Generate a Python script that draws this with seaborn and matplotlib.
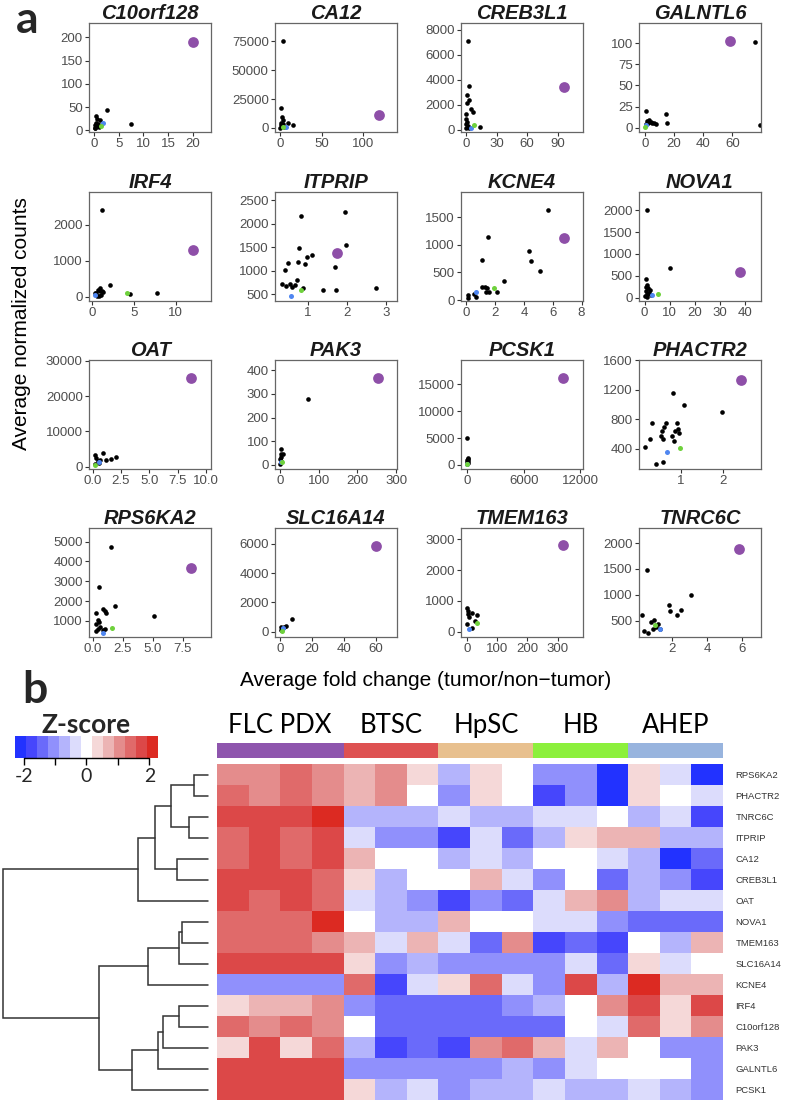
import numpy as np
import pandas as pd
import matplotlib
matplotlib.use("Agg")
import matplotlib.pyplot as plt
import matplotlib.transforms as mtransforms
from matplotlib.colors import ListedColormap
import seaborn as sns

# ---------------- data: panel a (scatter) ----------------
genes = ["C10orf128", "CA12", "CREB3L1", "GALNTL6", "IRF4", "ITPRIP", "KCNE4", "NOVA1",
         "OAT", "PAK3", "PCSK1", "PHACTR2", "RPS6KA2", "SLC16A14", "TMEM163", "TNRC6C"]

c10orf128_x = [0.34, 0.7, 1.2, 2.6, 7.5, 0.2, 0.3, 0.5, 0.8, 0.15, 1.0, 0.4]
c10orf128_y = [30, 25, 22, 43, 13, 11, 6, 9, 13, 4, 7, 16]
ca12_x = [3.3, 1.2, 2.4, 4, 1.2, 16, 9, 2, 5, 0, 0.8, 3.3]
ca12_y = [75000, 17400, 9600, 7300, 4400, 2900, 4400, 1500, 900, 300, 2300, 3200]
creb3l1_x = [1.9, 3, 0.7, 2.6, 1.1, 4.5, 6.7, 0, 0.3, 14, 1.1, 0.2, 1.9, 0.2, 3]
creb3l1_y = [7100, 3500, 2780, 2380, 2100, 1620, 1430, 1240, 890, 216, 620, 430, 270, 135, 110]
galntl6_x = [75.5, 78.8, 0.7, 14.4, 15.5, 0.7, 1.8, 3, 4.1, 5.3, 6.4, 7.5, 2.5]
galntl6_y = [101, 3.6, 20, 16, 5, 4, 8, 9.6, 7, 5.6, 5, 4, 5.6]
irf4_x = [1.15, 2.1, 1.2, 7.7, 4.5, 0.7, 0.9, 0.5, 1.1, 1.3, 0.3, 0.8, 0.6, 1.0]
irf4_y = [2420, 330, 170, 115, 85, 200, 150, 100, 60, 130, 110, 30, 20, 240]
itprip_x = [0.32, 0.41, 0.49, 0.44, 0.53, 0.60, 0.67, 0.72, 0.77, 0.75, 0.91, 0.97, 1.11,
            0.88, 1.39, 1.70, 1.72, 1.98, 2.75, 0.81, 1.94]
itprip_y = [725, 1007, 1160, 667, 725, 652, 703, 797, 1478, 1196, 1138, 1283, 1333,
            630, 580, 1087, 594, 1558, 630, 2162, 2248]
kcne4_x = [1.1, 1.1, 1.28, 1.46, 1.36, 1.6, 0.51, 0.64, 0.13, 0.13, 2.1, 2.63, 4.35, 4.5, 5.1, 1.53, 5.7]
kcne4_y = [727, 242, 242, 212, 152, 152, 103, 60, 91, 30, 140, 345, 879, 709, 527, 1137, 1624]
nova1_x = [10, 0.7, 1.1, 1.4, 0.4, 1.7, 0.9, 2.1, 0, 1.1, 2.6, 0.7, 1.0]
nova1_y = [677, 423, 292, 231, 154, 115, 77, 169, 38, 15, 62, 246, 2003]
oat_x = [0.88, 2.1, 1.2, 1.65, 0.3, 0.5, 0.6, 0.25, 0.65, 0.2]
oat_y = [4000, 2770, 1830, 2100, 2570, 1700, 1000, 800, 2000, 3400]
pak3_x = [71, 3.6, 2, 1.5, 8, 0.5, 3, 1]
pak3_y = [277, 67, 34, 47, 45, 24, 17, 6]
pcsk1_x = [20, 50, 80, 30, 60, 15, 40, 10]
pcsk1_y = [4940, 1300, 1100, 900, 700, 500, 300, 150]
phactr2_x = [0.82, 1.09, 1.97, 0.32, 0.16, 0.28, 0.56, 0.61, 0.65, 0.53, 0.58, 0.79, 0.87,
             0.94, 0.91, 0.96, 0.84, 0.42, 0.58]
phactr2_y = [1162, 997, 895, 744, 414, 529, 643, 698, 744, 574, 529, 574, 643,
             670, 744, 617, 500, 186, 210]
rps6ka2_x = [1.55, 0.57, 1.9, 5.1, 0.3, 0.88, 1.0, 1.1, 0.44, 0.26, 0.62, 0.44, 0.88, 0.26, 0.5, 1.0]
rps6ka2_y = [4720, 2700, 1750, 1220, 1385, 1600, 1500, 1400, 1050, 830, 700, 600, 550, 500, 950, 600]
slc16a14_x = [7.7, 3.9, 0.8, 1.1, 0.6, 2.5]
slc16a14_y = [860, 405, 290, 180, 110, 340]
tmem163_x = [0, 17, 33, 7, 2, 25, 0, 15, 4]
tmem163_y = [760, 620, 560, 480, 670, 350, 240, 130, 580]
tnrc6c_x = [3.1, 0.57, 1.8, 2.5, 1.88, 2.3, 0.3, 0.8, 0.97, 1.2, 0.36, 0.6, 0.9, 1.3, 1.1]
tnrc6c_y = [1000, 1480, 810, 700, 690, 610, 615, 470, 520, 430, 300, 270, 350, 350, 380]

black_x = [c10orf128_x, ca12_x, creb3l1_x, galntl6_x, irf4_x, itprip_x, kcne4_x, nova1_x,
           oat_x, pak3_x, pcsk1_x, phactr2_x, rps6ka2_x, slc16a14_x, tmem163_x, tnrc6c_x]
black_y = [c10orf128_y, ca12_y, creb3l1_y, galntl6_y, irf4_y, itprip_y, kcne4_y, nova1_y,
           oat_y, pak3_y, pcsk1_y, phactr2_y, rps6ka2_y, slc16a14_y, tmem163_y, tnrc6c_y]

flc_x = [20, 119, 96, 58, 12.0, 1.75, 6.8, 37.9, 8.67, 253, 10200, 2.42, 8.2, 60.2, 318, 5.86]
flc_y = [191, 11600, 3380, 103, 1295, 1377, 1126, 592, 24970, 366, 16170, 1331, 3670, 5860, 2800, 1880]
blue_x = [1.8, 7.3, 4.5, 1.2, 0.4, 0.56, 0.69, 2.9, 0.6, 2, 30, 0.68, 0.88, 1.9, 8, 1.3]
blue_y = [16, 870, 135, 2.8, 60, 471, 139, 62, 1400, 11, 200, 359, 385, 250, 90, 341]
green_x = [1.4, 3.3, 8.2, 0, 4.2, 0.83, 1.92, 5.4, 0.2, 5, 0, 0.98, 1.6, 1.1, 33, 1.0]
green_y = [10, 600, 350, 0.4, 100, 594, 212, 92, 600, 12, 120, 410, 620, 80, 300, 424]

x_lims = [(-1.0, 23.7), (-6.1, 141), (-5, 115), (-3.9, 79.5), (-0.36, 14.2), (0.15, 3.29),
          (-0.37, 8.1), (-2.2, 46.4), (-0.32, 10.44), (-13, 302), (-660, 12300), (0.02, 2.9),
          (-0.3, 9.85), (-3.1, 73), (-20, 384), (0.1, 7.1)]
y_lims = [(-3.6, 231), (-3500, 91000), (-190, 8540), (-5.2, 124), (-120, 2920), (356, 2678),
          (-18, 1953), (-76, 2418), (-660, 30200), (-17, 443), (-750, 19550), (121, 1606),
          (185, 5685), (-358, 7070), (-170, 3368), (188, 2290)]
x_ticks = [[0, 5, 10, 15, 20], [0, 50, 100], [0, 30, 60, 90], [0, 20, 40, 60], [0, 5, 10],
           [1, 2, 3], [0, 2, 4, 6, 8], [0, 10, 20, 30, 40], [0, 2.5, 5, 7.5, 10],
           [0, 100, 200, 300], [0, 6000, 12000], [1, 2], [0, 2.5, 5, 7.5], [0, 20, 40, 60],
           [0, 100, 200, 300], [2, 4, 6]]
y_ticks = [[0, 50, 100, 150, 200], [0, 25000, 50000, 75000], [0, 2000, 4000, 6000, 8000],
           [0, 25, 50, 75, 100], [0, 1000, 2000], [500, 1000, 1500, 2000, 2500],
           [0, 500, 1000, 1500], [0, 500, 1000, 1500, 2000], [0, 10000, 20000, 30000],
           [0, 100, 200, 300, 400], [0, 5000, 10000, 15000], [400, 800, 1200, 1600],
           [1000, 2000, 3000, 4000, 5000], [0, 2000, 4000, 6000], [0, 1000, 2000, 3000],
           [500, 1000, 1500, 2000]]

# ---------------- data: panel b (heatmap) ----------------
row_genes = ["RPS6KA2", "PHACTR2", "TNRC6C", "ITPRIP", "CA12", "CREB3L1", "OAT", "NOVA1",
             "TMEM163", "SLC16A14", "KCNE4", "IRF4", "C10orf128", "PAK3", "GALNTL6", "PCSK1"]
group_names = ["FLC PDX", "BTSC", "HpSC", "HB", "AHEP"]
group_sizes = [4, 3, 3, 3, 3]
zscores = [
    [1.05, 1.05, 1.4, 1.05, 0.7, 1.05, 0.35, -0.7, 0.35, 0.0, -1.05, -1.05, -2.1, 0.35, -0.35, -2.1],
    [1.4, 1.05, 1.4, 1.05, 0.7, 1.05, 0.0, -1.05, 0.35, 0.0, -1.75, -1.05, -2.1, 0.35, 0.0, -0.35],
    [1.75, 1.75, 1.75, 2.1, -0.7, -0.7, -0.7, -0.35, -0.7, -0.7, -0.35, -0.35, 0.0, -0.7, -0.35, -1.75],
    [1.4, 1.75, 1.4, 1.75, -0.35, -1.05, -1.05, -1.75, -0.35, -1.4, -0.7, 0.35, 0.7, 0.7, -0.7, -0.7],
    [1.4, 1.75, 1.4, 1.75, 0.7, 0.0, 0.0, -0.7, -0.35, -0.7, 0.0, 0.0, -0.35, -0.7, -2.1, -1.4],
    [1.75, 1.75, 1.75, 1.4, 0.35, -0.7, 0.0, 0.0, 0.7, -0.35, -1.05, 0.0, -1.4, -0.7, -1.05, -1.75],
    [1.75, 1.4, 1.75, 1.4, -0.35, -0.7, -1.05, -1.75, -1.05, -1.4, -0.35, 0.7, 1.05, -0.7, -0.35, -0.35],
    [1.4, 1.4, 1.4, 2.1, 0.0, -0.7, -0.7, 0.7, 0.0, 0.0, -0.35, -0.35, -1.05, -1.4, -1.4, -1.4],
    [1.4, 1.4, 1.4, 1.05, 0.7, -0.35, 0.7, -0.35, -1.4, 1.05, -1.75, -1.4, -1.75, 0.0, -0.7, 0.7],
    [1.75, 1.75, 1.75, 1.75, 0.35, -1.05, -0.7, -1.05, -1.05, -1.05, -1.05, -0.35, -1.4, 0.35, -0.35, 0.0],
    [-1.05, -1.05, -1.05, -1.05, 1.4, -1.75, -0.35, 0.35, 1.4, -0.35, -1.05, 1.75, -0.7, 2.1, 0.7, 0.7],
    [0.35, 0.7, 0.7, 1.05, -1.05, -1.4, -1.4, -1.4, -1.4, -1.05, -0.7, 0.0, 1.05, 1.75, 0.35, 1.75],
    [1.4, 1.05, 1.4, 1.05, 0.0, -1.4, -1.4, -1.4, -1.4, -1.4, -1.4, 0.0, -0.35, 1.4, 0.35, 1.05],
    [0.35, 1.75, 0.35, 1.4, -0.7, -1.75, -1.4, -1.75, 1.05, 1.4, 0.7, -0.35, 0.7, 0.0, -1.05, -1.05],
    [1.75, 1.75, 1.75, 1.75, -1.05, -1.05, -1.05, -1.05, -1.05, -0.7, -1.05, -0.35, 0.0, 0.0, 0.0, -1.05],
    [1.75, 1.75, 1.75, 1.75, 0.35, -0.7, -0.35, -1.05, -0.7, -0.7, -0.35, -0.7, -0.7, -0.35, -0.7, -1.05],
]
# row dendrogram: (child a, child b, height); leaves 0..15, new clusters numbered from 16
merge_a = [0, 2, 16, 4, 18, 20, 7, 22, 23, 11, 25, 26, 27, 24, 21]
merge_b = [1, 3, 17, 5, 19, 6, 8, 9, 10, 12, 13, 14, 15, 28, 29]
merge_h = [43, 57, 112, 92, 159, 210, 78, 87, 181, 87, 136, 150, 227, 328, 615]

# ---------------- styling ----------------
heat_colors = ["#2232ff", "#4646fc", "#6a6afa", "#9090fc", "#b4b4fc", "#dcdcfc", "#ffffff",
               "#f5d8d8", "#ecb4b4", "#e48c8c", "#e06a6a", "#dc4848", "#dc2a22"]
group_colors = ["#8e55ad", "#de5252", "#e8c08e", "#8cf03c", "#98b4de"]

sns.set_theme(style="white")
plt.rcParams['font.family'] = ['Liberation Sans', 'DejaVu Sans']
CAL = ['Lato', 'DejaVu Sans']

W, H = 787, 1104
fig = plt.figure(figsize=(W / 100, H / 100), dpi=100)


def box(l, t, r, b):
    return [l / W, 1 - b / H, (r - l) / W, (b - t) / H]


def fmt(t, ticks):
    if any(float(v) != int(v) for v in ticks):
        return f"{t:.1f}"
    return f"{int(t)}"


col_left = [89, 275, 461, 639]
row_top = [23, 192, 360, 528]
for i, g in enumerate(genes):
    r, c = divmod(i, 4)
    l, t = col_left[c], row_top[r]
    ax = fig.add_axes(box(l, t, l + 122, t + 109))
    df_b = pd.DataFrame({"x": black_x[i], "y": black_y[i]})
    sns.scatterplot(data=df_b, x="x", y="y", color="black", s=11, linewidth=0, ax=ax)
    sns.scatterplot(x=[blue_x[i]], y=[blue_y[i]], color="#4f86f0", s=13, linewidth=0, ax=ax)
    sns.scatterplot(x=[green_x[i]], y=[green_y[i]], color="#6fd13c", s=13, linewidth=0, ax=ax)
    sns.scatterplot(x=[flc_x[i]], y=[flc_y[i]], color="#8e4fa8", s=60, linewidth=0, ax=ax)
    ax.set_xlim(*x_lims[i])
    ax.set_ylim(*y_lims[i])
    ax.set_xticks(x_ticks[i])
    ax.set_xticklabels([fmt(v, x_ticks[i]) for v in x_ticks[i]])
    ax.set_yticks(y_ticks[i])
    ax.set_yticklabels([fmt(v, y_ticks[i]) for v in y_ticks[i]])
    ax.set_xlabel("")
    ax.set_ylabel("")
    ax.tick_params(bottom=True, left=True, direction="out", length=3, width=0.8,
                   color="#333333", labelsize=9.5, labelcolor="#4d4d4d", pad=1.5)
    for sp in ax.spines.values():
        sp.set_color("#666666")
        sp.set_linewidth(0.9)
    ax.set_title(g, fontsize=14.5, fontweight="bold", fontstyle="italic", pad=3, color="#1a1a1a")

fig.text(22 / W, 1 - 324 / H, "Average normalized counts", rotation=90,
         ha="center", va="center", fontsize=15, color="black")
fig.text(426 / W, 1 - 680 / H, "Average fold change (tumor/non\u2212tumor)",
         ha="center", va="center", fontsize=15, color="black")
fig.text(16 / W, 1 - 33 / H, "a", fontsize=32, fontweight="bold", family=CAL, va="baseline")
fig.text(22 / W, 1 - 703 / H, "b", fontsize=32, fontweight="bold", family=CAL, va="baseline")

# ---------------- panel b ----------------
heat = pd.DataFrame(zscores, index=row_genes)
cmap = ListedColormap(heat_colors)
hax = fig.add_axes(box(217, 764, 723, 1100))
cax = fig.add_axes(box(15, 736, 158, 758))
sns.heatmap(heat, ax=hax, cmap=cmap, vmin=-2.275, vmax=2.275, cbar=True, cbar_ax=cax,
            cbar_kws={"orientation": "horizontal", "ticks": [-2, -1, 0, 1, 2]},
            xticklabels=False, yticklabels=row_genes)
hax.yaxis.set_ticks_position("right")
hax.tick_params(axis="y", left=False, right=False, labelleft=False, labelright=True,
                length=0, pad=9, labelsize=6.8, labelcolor="#333333")
for lab in hax.get_yticklabels():
    lab.set_rotation(0)

cb = hax.collections[0].colorbar
cb.outline.set_visible(False)
cax.set_xticklabels(["-2", "", "0", "", "2"])
cax.tick_params(axis="x", bottom=True, direction="out", length=5, width=1, color="black",
                labelsize=14, pad=2)
for lab in cax.get_xticklabels():
    lab.set_family(CAL)
cax.plot([-2, 2], [0, 0], transform=cax.get_xaxis_transform(), color="black", lw=1, clip_on=False)
fig.text(86 / W, 1 - 733 / H, "Z-score", ha="center", va="baseline", fontsize=19,
         fontweight="bold", family=CAL)

# column annotation bar
aax = fig.add_axes(box(217, 743, 723, 758))
grp_idx = np.repeat(np.arange(len(group_names)), group_sizes)[None, :]
sns.heatmap(grp_idx, ax=aax, cmap=ListedColormap(group_colors), vmin=-0.5,
            vmax=len(group_names) - 0.5, cbar=False, xticklabels=False, yticklabels=False)
bt = mtransforms.blended_transform_factory(aax.transData, fig.transFigure)
edges = np.concatenate([[0], np.cumsum(group_sizes)])
for k, name in enumerate(group_names):
    xc = (edges[k] + edges[k + 1]) / 2
    aax.text(xc, 1 - 733 / H, name, transform=bt, ha="center", va="baseline",
             fontsize=18.5, family=CAL, color="black")

# row dendrogram
dax = fig.add_axes(box(3, 764, 208, 1100))
pos = {i: i + 0.5 for i in range(len(row_genes))}
hgt = {i: 0.0 for i in range(len(row_genes))}
for k, (a, b, h) in enumerate(zip(merge_a, merge_b, merge_h)):
    ya, yb = pos[a], pos[b]
    dax.plot([hgt[a], h, h, hgt[b]], [ya, ya, yb, yb], color="#333333", lw=1.1,
             clip_on=False, solid_joinstyle="miter")
    pos[len(row_genes) + k] = (ya + yb) / 2
    hgt[len(row_genes) + k] = h
dax.set_xlim(max(merge_h), 0)
dax.set_ylim(len(row_genes), 0)
dax.axis("off")

fig.savefig("out.png", dpi=100)
